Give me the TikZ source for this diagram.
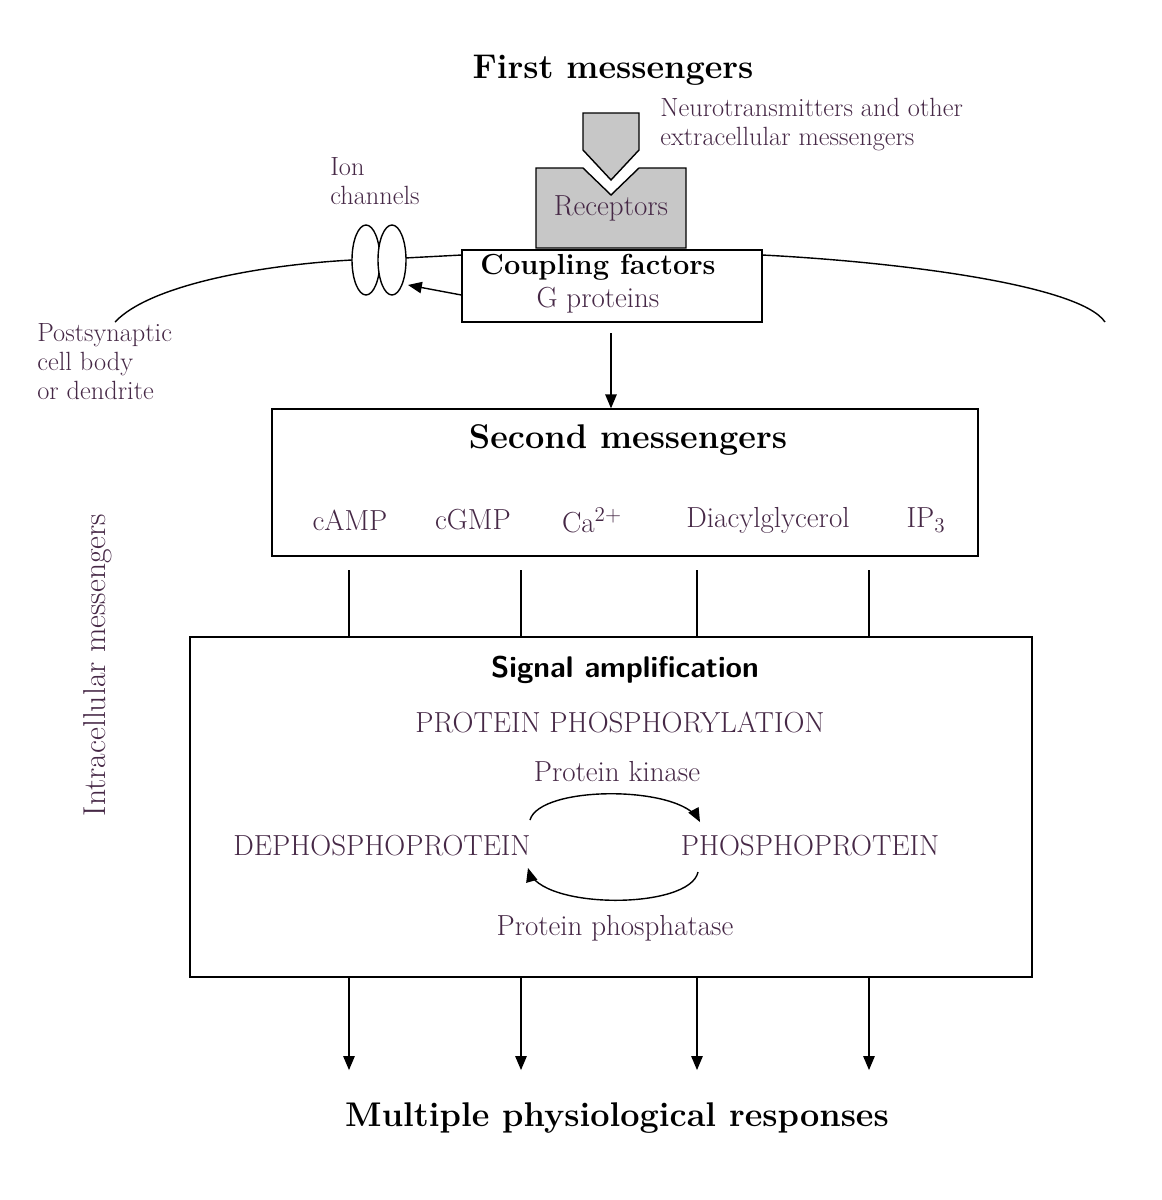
\documentclass[tikz,border=0pt]{standalone}
\usepackage{tikz}
\usetikzlibrary{arrows}
\definecolor{txt}{RGB}{70,40,70}
\tikzset{
  box/.style={draw,thick,fill=white},
  lbl/.style={text=txt,font=\fontsize{16.5}{18}\selectfont,inner sep=0pt},
  ttl/.style={font=\fontsize{19.5}{21}\selectfont\bfseries,inner sep=0pt},
  side/.style={lbl,align=left,anchor=north west,font=\fontsize{15}{16.5}\selectfont},
  arr/.style={->,>=triangle 45,thick}
}
\begin{document}
\begin{tikzpicture}[x=0.02cm,y=-0.02cm]
\useasboundingbox (0,0) rectangle (1161,1200);

\node[ttl] (first) at (613,70) {First messengers};
\node[side] (neuro) at (660,98) {Neurotransmitters and other\\extracellular messengers};

% membrane
\draw[thick] (115,322) .. controls (150,285) and (260,265) .. (352,260);
\draw[thick] (405,258) -- (462,255);
\draw[thick] (762,255) .. controls (900,262) and (1080,285) .. (1105,322);

% receptor and ligand
\draw[thick,fill=black!22] (536,248) -- (536,168) -- (583,168) -- (611,195) -- (639,168)
  -- (686,168) -- (686,248) -- cycle;
\draw[thick,fill=black!22] (583,113) -- (639,113) -- (639,150) -- (611,180) -- (583,150) -- cycle;
\node[lbl] (rec) at (611,208) {Receptors};

\node[box,minimum width=6cm,minimum height=1.44cm] (coup) at (612,286) {};
\node[ttl,font=\fontsize{16.5}{18}\selectfont\bfseries] (cf) at (598,267) {Coupling factors};
\node[lbl] (gp) at (598,300) {G proteins};

% ion channels
\draw[thick,fill=white] (366,260) ellipse (14 and 35);
\draw[thick,fill=white] (392,260) ellipse (14 and 35);
\coordinate (ion) at (408,285);
\node[side] (ionl) at (330,157) {Ion\\channels};
\draw[arr] (coup.west |- 0,295) -- (ion);

\node[side] (post) at (37,323) {Postsynaptic\\cell body\\or dendrite};

\node[lbl,rotate=90,font=\fontsize{18}{20}\selectfont] (intra) at (98,665) {Intracellular messengers};

% second messengers
\node[box,minimum width=14.12cm,minimum height=2.94cm] (second) at (625,482.5) {};
\draw[arr] (611,333) -- (second.north -| 611,0);
\node[ttl] (sm) at (628,440) {Second messengers};
\foreach \t/\x in {cAMP/350,cGMP/473,Ca$^{2+}$/592,Diacylglycerol/768,IP$_3$/926}
  \node[lbl] at (\x,520) {\t};

% amplification
\node[box,minimum width=16.84cm,minimum height=6.8cm] (amp) at (611,807) {};
\foreach \x in {349,521,697,869}
  \draw[thick] (\x,570) -- (amp.north -| \x,0);
\node[font=\fontsize{17}{19}\selectfont\sffamily\bfseries,inner sep=0pt] (sa) at (625,670) {Signal amplification};
\node[lbl] (pp) at (620,722) {PROTEIN PHOSPHORYLATION};
\node[lbl] (pk) at (617,772) {Protein kinase};
\node[lbl] (dep) at (382,846) {DEPHOSPHOPROTEIN};
\node[lbl] (pho) at (810,846) {PHOSPHOPROTEIN};
\node[lbl] (pph) at (615,928) {Protein phosphatase};
\draw[arr] (530,820) .. controls (540,785) and (680,785) .. (700,822);
\draw[arr] (698,872) .. controls (690,910) and (540,910) .. (528,868);

% responses
\node[ttl] (resp) at (617,1118) {Multiple physiological responses};
\foreach \x in {349,521,697,869}
  \draw[arr] (amp.south -| \x,0) -- (\x,1070);
\end{tikzpicture}
\end{document}
